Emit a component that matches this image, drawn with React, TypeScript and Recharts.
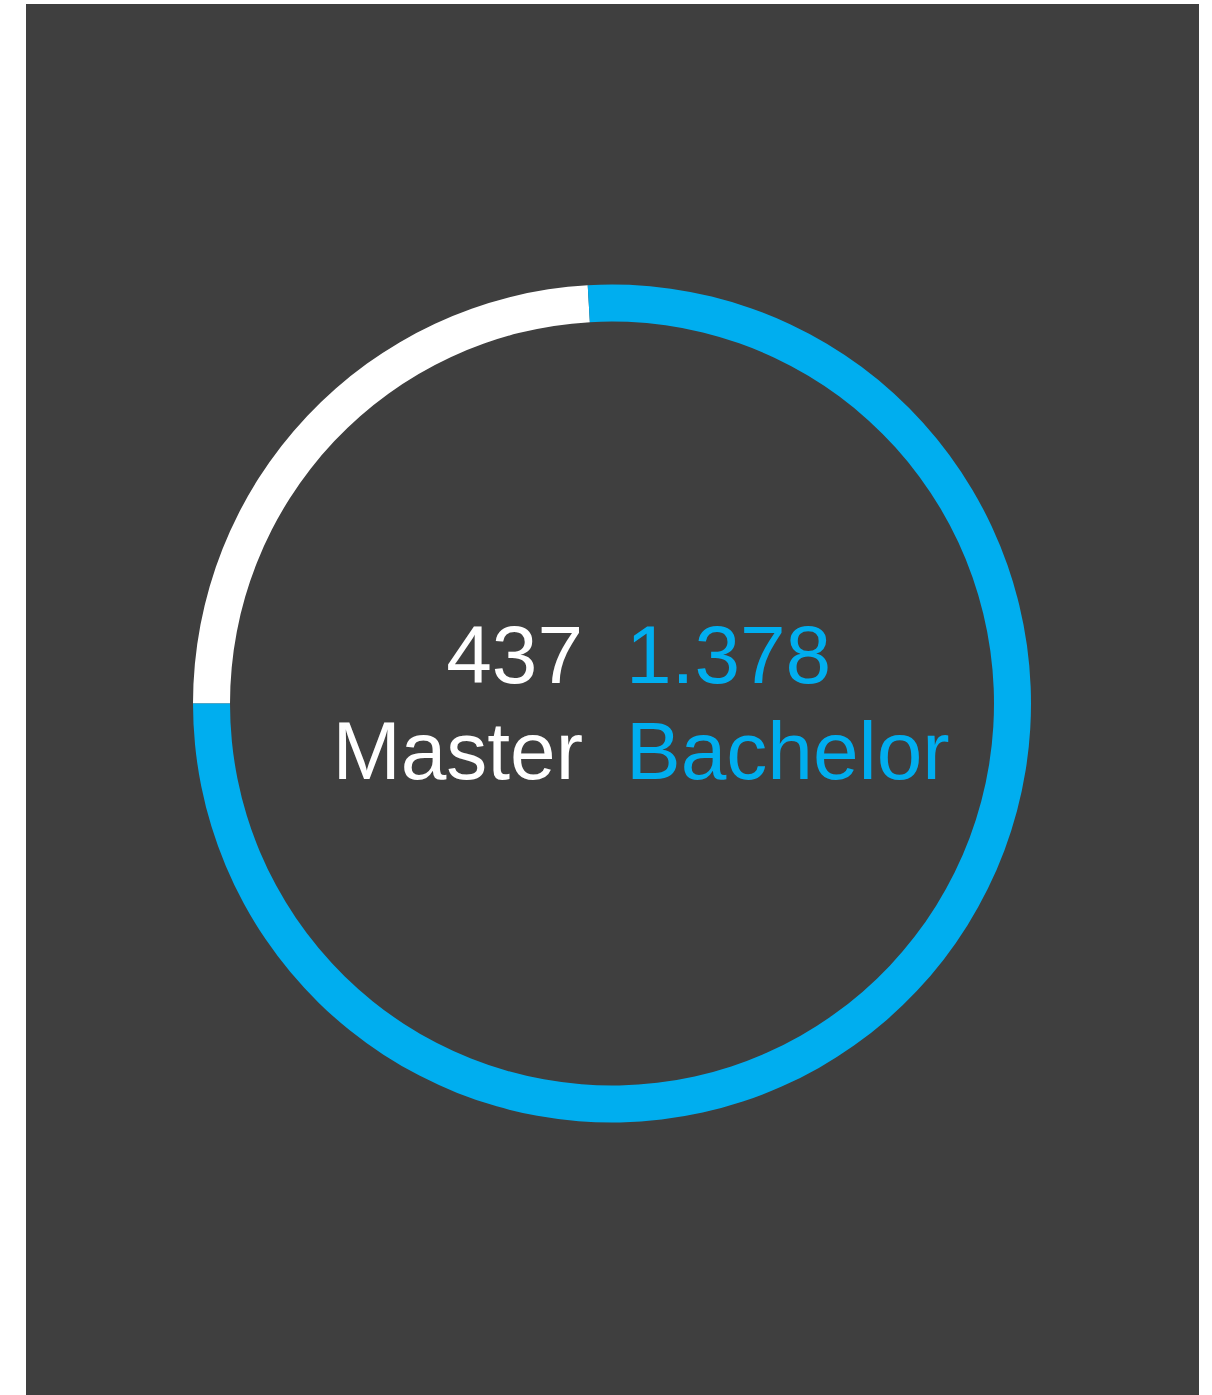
import { PieChart, Pie, Cell, Label } from 'recharts'

const categories = ['Master', 'Bachelor']
const counts = [437, 1378]
const countLabels = ['437', '1.378']
const colors = ['#ffffff', '#00aeef']

const slices = categories.map((name, i) => ({ name, value: counts[i] }))

const FONT = '"Liberation Sans", Helvetica, Arial, sans-serif'
const CX = 586
const CY = 699.5

function CenterText() {
  const leftX = CX - 29
  const rightX = CX + 14
  return (
    <g style={{ fontFamily: FONT, fontSize: 82 }}>
      <text x={leftX} y={CY - 21} textAnchor="end" fill={colors[0]}>{countLabels[0]}</text>
      <text x={rightX} y={CY - 21} textAnchor="start" fill={colors[1]}>{countLabels[1]}</text>
      <text x={leftX} y={CY + 75} textAnchor="end" fill={colors[0]}>{categories[0]}</text>
      <text x={rightX} y={CY + 75} textAnchor="start" fill={colors[1]}>{categories[1]}</text>
    </g>
  )
}

export default function App() {
  return (
    <div style={{ position: 'absolute', left: 26, top: 4, width: 1173, height: 1391, background: '#3f3f3f' }}>
      <PieChart width={1173} height={1391} margin={{ top: 0, right: 0, bottom: 0, left: 0 }}>
        <Pie
          data={slices}
          dataKey="value"
          nameKey="name"
          cx={CX}
          cy={CY}
          innerRadius={382}
          outerRadius={419}
          startAngle={180}
          endAngle={-180}
          stroke="none"
          isAnimationActive={false}
        >
          {slices.map((s, i) => (
            <Cell key={s.name} fill={colors[i]} />
          ))}
          <Label position="center" content={() => <CenterText />} />
        </Pie>
      </PieChart>
    </div>
  )
}
